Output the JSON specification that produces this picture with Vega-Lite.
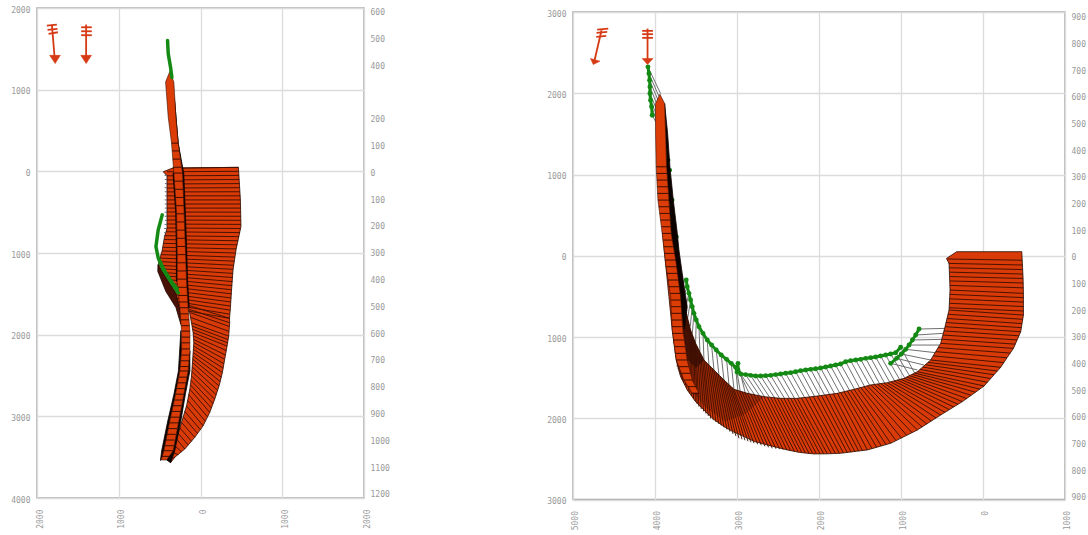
{"$schema":"https://vega.github.io/schema/vega-lite/v6.json","background":"white","padding":{"left":9,"top":5,"right":0,"bottom":0},"spacing":154,
"config":{"view":{"stroke":"#a8a8a8","strokeWidth":1.5},"axis":{"title":null,"domain":false,"ticks":false,"labelFont":"DejaVu Sans Mono","labelFontSize":8,"labelColor":"#999","labelOverlap":false,"gridColor":"#dcdcdc","gridWidth":1.3}},
"datasets":{
"L_poly":[{"x":342,"y":-40},{"x":-464,"y":-49},{"x":-488,"y":350},{"x":-495,"y":676},{"x":-435,"y":960},{"x":-398,"y":1204},{"x":-380,"y":1450},{"x":-366,"y":1671},{"x":-355,"y":1800},{"x":265,"y":1690},{"x":325,"y":1590},{"x":410,"y":1410},{"x":517,"y":1225},{"x":510,"y":1105},{"x":470,"y":975},{"x":440,"y":800},{"x":410,"y":700},{"x":410,"y":55},{"x":456,"y":5}],
"L_fan":[{"x":150,"y":1640},{"x":-355,"y":1800},{"x":-357,"y":1855},{"x":-345,"y":2018},{"x":-325,"y":2140},{"x":-296,"y":2302},{"x":-268,"y":2464},{"x":-227,"y":2628},{"x":-174,"y":2790},{"x":-113,"y":2952},{"x":-32,"y":3116},{"x":70,"y":3257},{"x":192,"y":3400},{"x":314,"y":3501},{"x":366,"y":3567},{"x":375,"y":3522},{"x":293,"y":3278},{"x":232,"y":3074},{"x":171,"y":2872},{"x":130,"y":2668},{"x":110,"y":2506},{"x":98,"y":2342},{"x":90,"y":2220},{"x":82,"y":2098},{"x":90,"y":1976},{"x":110,"y":1855}],
"L_ribs":[{"x":342,"y":-40,"x2":-464,"y2":-49},{"x":410,"y":5,"x2":-468,"y2":0},{"x":410,"y":55,"x2":-471,"y2":50},{"x":410,"y":105,"x2":-474,"y2":100},{"x":410,"y":155,"x2":-477,"y2":150},{"x":410,"y":205,"x2":-480,"y2":200},{"x":410,"y":252,"x2":-483,"y2":250},{"x":410,"y":300,"x2":-486,"y2":300},{"x":410,"y":350,"x2":-488,"y2":350},{"x":410,"y":400,"x2":-490,"y2":400},{"x":410,"y":450,"x2":-491,"y2":450},{"x":410,"y":498,"x2":-492,"y2":500},{"x":410,"y":548,"x2":-493,"y2":550},{"x":410,"y":596,"x2":-494,"y2":600},{"x":410,"y":645,"x2":-495,"y2":650},{"x":410,"y":693,"x2":-492,"y2":700},{"x":420,"y":740,"x2":-483,"y2":750},{"x":440,"y":788,"x2":-472,"y2":800},{"x":445,"y":835,"x2":-460,"y2":850},{"x":452,"y":882,"x2":-448,"y2":900},{"x":460,"y":930,"x2":-437,"y2":950},{"x":470,"y":975,"x2":-428,"y2":1000},{"x":482,"y":1020,"x2":-420,"y2":1050},{"x":496,"y":1062,"x2":-414,"y2":1100},{"x":510,"y":1105,"x2":-408,"y2":1150},{"x":517,"y":1150,"x2":-402,"y2":1200},{"x":517,"y":1190,"x2":-398,"y2":1250},{"x":515,"y":1235,"x2":-394,"y2":1300},{"x":490,"y":1275,"x2":-391,"y2":1350},{"x":460,"y":1320,"x2":-387,"y2":1400},{"x":435,"y":1365,"x2":-384,"y2":1450},{"x":410,"y":1410,"x2":-380,"y2":1500},{"x":410,"y":1455,"x2":-376,"y2":1550},{"x":385,"y":1500,"x2":-372,"y2":1600},{"x":355,"y":1545,"x2":-368,"y2":1650},{"x":325,"y":1590,"x2":-364,"y2":1700},{"x":290,"y":1640,"x2":-359,"y2":1750},{"x":265,"y":1690,"x2":-355,"y2":1800},{"x":131,"y":1692,"x2":-357,"y2":1855},{"x":125,"y":1730,"x2":-353,"y2":1900},{"x":118,"y":1790,"x2":-349,"y2":1960},{"x":110,"y":1855,"x2":-345,"y2":2018},{"x":104,"y":1895,"x2":-338,"y2":2060},{"x":96,"y":1935,"x2":-331,"y2":2100},{"x":90,"y":1976,"x2":-325,"y2":2140},{"x":88,"y":2015,"x2":-316,"y2":2195},{"x":84,"y":2058,"x2":-306,"y2":2250},{"x":82,"y":2098,"x2":-296,"y2":2302},{"x":84,"y":2140,"x2":-287,"y2":2356},{"x":87,"y":2180,"x2":-277,"y2":2410},{"x":90,"y":2220,"x2":-268,"y2":2464},{"x":92,"y":2260,"x2":-255,"y2":2520},{"x":95,"y":2300,"x2":-241,"y2":2575},{"x":98,"y":2342,"x2":-227,"y2":2628},{"x":102,"y":2396,"x2":-210,"y2":2682},{"x":106,"y":2450,"x2":-192,"y2":2736},{"x":110,"y":2506,"x2":-174,"y2":2790},{"x":116,"y":2560,"x2":-154,"y2":2845},{"x":123,"y":2615,"x2":-134,"y2":2898},{"x":130,"y":2668,"x2":-113,"y2":2952},{"x":144,"y":2735,"x2":-86,"y2":3006},{"x":158,"y":2805,"x2":-59,"y2":3060},{"x":171,"y":2872,"x2":-32,"y2":3116},{"x":192,"y":2940,"x2":2,"y2":3163},{"x":212,"y":3005,"x2":36,"y2":3210},{"x":232,"y":3074,"x2":70,"y2":3257},{"x":252,"y":3142,"x2":110,"y2":3305},{"x":272,"y":3210,"x2":150,"y2":3352},{"x":293,"y":3278,"x2":192,"y2":3400},{"x":316,"y":3360,"x2":232,"y2":3435},{"x":345,"y":3440,"x2":272,"y2":3470},{"x":375,"y":3522,"x2":314,"y2":3501}],
"L_grey":[{"x":440,"x2":410,"y":50},{"x":438,"x2":410,"y":100},{"x":436,"x2":410,"y":150},{"x":440,"x2":410,"y":200},{"x":438,"x2":410,"y":250},{"x":436,"x2":410,"y":300},{"x":440,"x2":410,"y":350},{"x":438,"x2":410,"y":400},{"x":436,"x2":410,"y":450},{"x":440,"x2":410,"y":500},{"x":438,"x2":410,"y":550},{"x":436,"x2":410,"y":600},{"x":440,"x2":410,"y":650},{"x":445,"x2":410,"y":700},{"x":445,"x2":420,"y":750},{"x":450,"x2":440,"y":800},{"x":455,"x2":445,"y":850}],
"L_lobe":[{"x":521,"y":1143},{"x":521,"y":1228},{"x":423,"y":1472},{"x":301,"y":1668},{"x":240,"y":1875},{"x":240,"y":1750},{"x":300,"y":1500},{"x":420,"y":1300}],
"L_black":[{"id":"a","x":240,"y":1950},{"id":"a","x":270,"y":2445},{"id":"a","x":325,"y":2729},{"id":"a","x":400,"y":3055},{"id":"a","x":475,"y":3421},{"id":"a","x":490,"y":3540},{"id":"a","x":481,"y":3534},{"id":"a","x":448,"y":3421},{"id":"a","x":375,"y":3055},{"id":"a","x":305,"y":2729},{"id":"a","x":253,"y":2445},{"id":"a","x":232,"y":2201},{"id":"b","x":130,"y":2201},{"id":"b","x":130,"y":2445},{"id":"b","x":185,"y":2729},{"id":"b","x":240,"y":3055},{"id":"b","x":315,"y":3421},{"id":"b","x":366,"y":3567},{"id":"b","x":415,"y":3534},{"id":"b","x":334,"y":3421},{"id":"b","x":265,"y":3055},{"id":"b","x":204,"y":2729},{"id":"b","x":151,"y":2445},{"id":"c","x":320,"y":-900},{"id":"c","x":273,"y":-345},{"id":"c","x":205,"y":21},{"id":"c","x":185,"y":509},{"id":"c","x":168,"y":997},{"id":"c","x":158,"y":1347},{"id":"c","x":138,"y":1668},{"id":"c","x":151,"y":1668},{"id":"c","x":171,"y":1347},{"id":"c","x":183,"y":997},{"id":"c","x":200,"y":509},{"id":"c","x":220,"y":21},{"id":"c","x":273,"y":-345},{"id":"c","x":301,"y":-666},{"id":"d","x":336,"y":21},{"id":"d","x":303,"y":509},{"id":"d","x":295,"y":997},{"id":"d","x":295,"y":1347},{"id":"d","x":285,"y":1347},{"id":"d","x":285,"y":997},{"id":"d","x":293,"y":509},{"id":"d","x":326,"y":21}],
"L_tube":[{"x":375,"y":-1224},{"x":326,"y":-1093},{"x":301,"y":-666},{"x":273,"y":-345},{"x":220,"y":21},{"x":200,"y":509},{"x":183,"y":997},{"x":171,"y":1347},{"x":151,"y":1668},{"x":130,"y":1957},{"x":130,"y":2201},{"x":151,"y":2445},{"x":204,"y":2729},{"x":265,"y":3055},{"x":334,"y":3421},{"x":415,"y":3534},{"x":481,"y":3534},{"x":448,"y":3421},{"x":375,"y":3055},{"x":305,"y":2729},{"x":253,"y":2445},{"x":232,"y":2201},{"x":232,"y":1957},{"x":253,"y":1668},{"x":285,"y":1347},{"x":285,"y":997},{"x":293,"y":509},{"x":326,"y":21},{"x":354,"y":-345},{"x":395,"y":-666},{"x":427,"y":-1093}],
"L_tribs":[{"x":354,"x2":273,"y":-345},{"x":345,"x2":260,"y":-250},{"x":338,"x2":248,"y":-150},{"x":332,"x2":235,"y":-50},{"x":326,"x2":220,"y":21},{"x":320,"x2":215,"y":120},{"x":314,"x2":212,"y":220},{"x":306,"x2":208,"y":320},{"x":298,"x2":203,"y":420},{"x":293,"x2":200,"y":520},{"x":291,"x2":196,"y":620},{"x":289,"x2":192,"y":720},{"x":287,"x2":188,"y":820},{"x":286,"x2":185,"y":920},{"x":285,"x2":182,"y":1020},{"x":285,"x2":179,"y":1120},{"x":285,"x2":176,"y":1220},{"x":285,"x2":172,"y":1320},{"x":277,"x2":167,"y":1420},{"x":268,"x2":160,"y":1520},{"x":260,"x2":155,"y":1600},{"x":253,"x2":151,"y":1670},{"x":248,"x2":145,"y":1745},{"x":243,"x2":140,"y":1818},{"x":237,"x2":135,"y":1890},{"x":232,"x2":130,"y":1957},{"x":232,"x2":130,"y":2030},{"x":232,"x2":130,"y":2100},{"x":232,"x2":130,"y":2175},{"x":236,"x2":134,"y":2250},{"x":242,"x2":140,"y":2320},{"x":248,"x2":146,"y":2390},{"x":253,"x2":151,"y":2445},{"x":265,"x2":163,"y":2520},{"x":280,"x2":178,"y":2590},{"x":292,"x2":192,"y":2660},{"x":305,"x2":204,"y":2729},{"x":320,"x2":218,"y":2800},{"x":335,"x2":232,"y":2870},{"x":352,"x2":248,"y":2940},{"x":368,"x2":260,"y":3010},{"x":380,"x2":270,"y":3080},{"x":395,"x2":285,"y":3150},{"x":412,"x2":302,"y":3220},{"x":430,"x2":318,"y":3290},{"x":440,"x2":328,"y":3360},{"x":448,"x2":334,"y":3421},{"x":470,"x2":375,"y":3490}],
"L_green":[{"id":"t","x":403,"y":-1602},{"id":"t","x":395,"y":-1443},{"id":"t","x":366,"y":-1272},{"id":"t","x":350,"y":-1150},{"id":"l","x":468,"y":533},{"id":"l","x":517,"y":716},{"id":"l","x":545,"y":920},{"id":"l","x":517,"y":1061},{"id":"l","x":456,"y":1204},{"id":"l","x":354,"y":1366},{"id":"l","x":273,"y":1488},{"id":"m","x":500,"y":1100},{"id":"m","x":430,"y":1235},{"id":"m","x":340,"y":1370},{"id":"m","x":285,"y":1440}],
"L_arrowLine":[{"x":1818,"y":-1797,"x2":1785,"y2":-1400},{"x":1879,"y":-1785,"x2":1757,"y2":-1797},{"x":1871,"y":-1732,"x2":1749,"y2":-1745},{"x":1859,"y":-1684,"x2":1745,"y2":-1703},{"x":1399,"y":-1797,"x2":1399,"y2":-1400},{"x":1460,"y":-1764,"x2":1330,"y2":-1764},{"x":1460,"y":-1715,"x2":1330,"y2":-1715},{"x":1460,"y":-1667,"x2":1330,"y2":-1667}],
"L_arrowHead":[{"id":"a","x":1845,"y":-1420},{"id":"a","x":1715,"y":-1420},{"id":"a","x":1778,"y":-1320},{"id":"b","x":1464,"y":-1420},{"id":"b","x":1334,"y":-1420},{"id":"b","x":1399,"y":-1320}],
"L_axis":[{"m":-1219.2},{"m":609.6}],
"R_axis":[{"m":-914.4},{"m":914.4}],
"R_poly":[{"x":321,"y":-50},{"x":-473,"y":-50},{"x":-489,"y":280},{"x":-493,"y":463},{"x":-493,"y":730},{"x":-476,"y":835},{"x":-460,"y":935},{"x":-416,"y":1036},{"x":-371,"y":1140},{"x":-293,"y":1256},{"x":-216,"y":1373},{"x":-135,"y":1465},{"x":-13,"y":1603},{"x":92,"y":1680},{"x":251,"y":1795},{"x":357,"y":1861},{"x":516,"y":1960},{"x":630,"y":2034},{"x":800,"y":2144},{"x":930,"y":2210},{"x":1126,"y":2308},{"x":1240,"y":2341},{"x":1410,"y":2390},{"x":1540,"y":2406},{"x":1736,"y":2431},{"x":1900,"y":2438},{"x":2061,"y":2439},{"x":2240,"y":2420},{"x":2386,"y":2390},{"x":2631,"y":2329},{"x":2790,"y":2285},{"x":2915,"y":2226},{"x":3040,"y":2170},{"x":3159,"y":2103},{"x":3270,"y":2025},{"x":3363,"y":1939},{"x":3505,"y":1796},{"x":3607,"y":1652},{"x":3688,"y":1488},{"x":3741,"y":1283},{"x":3790,"y":914},{"x":3830,"y":504},{"x":3871,"y":94},{"x":3912,"y":-316},{"x":3769,"y":-193},{"x":3729,"y":94},{"x":3688,"y":381},{"x":3627,"y":668},{"x":3566,"y":914},{"x":3505,"y":1078},{"x":3403,"y":1283},{"x":3281,"y":1406},{"x":3159,"y":1529},{"x":3037,"y":1644},{"x":2875,"y":1693},{"x":2671,"y":1734},{"x":2468,"y":1755},{"x":2265,"y":1755},{"x":2020,"y":1726},{"x":1776,"y":1693},{"x":1573,"y":1644},{"x":1370,"y":1590},{"x":1166,"y":1562},{"x":963,"y":1509},{"x":800,"y":1427},{"x":703,"y":1341},{"x":638,"y":1283},{"x":577,"y":1180},{"x":516,"y":1078},{"x":463,"y":873},{"x":414,"y":668},{"x":402,"y":422},{"x":414,"y":94},{"x":446,"y":33}],
"R_ribs":[{"x":430,"y":40,"x2":-477,"y2":55},{"x":420,"y":94,"x2":-481,"y2":114},{"x":412,"y":148,"x2":-484,"y2":170},{"x":405,"y":202,"x2":-487,"y2":225},{"x":402,"y":256,"x2":-489,"y2":280},{"x":402,"y":310,"x2":-490,"y2":335},{"x":402,"y":365,"x2":-492,"y2":395},{"x":402,"y":422,"x2":-493,"y2":463},{"x":405,"y":475,"x2":-493,"y2":515},{"x":408,"y":530,"x2":-493,"y2":570},{"x":411,"y":585,"x2":-493,"y2":625},{"x":414,"y":640,"x2":-493,"y2":680},{"x":414,"y":668,"x2":-493,"y2":730},{"x":428,"y":720,"x2":-485,"y2":782},{"x":440,"y":772,"x2":-476,"y2":835},{"x":452,"y":822,"x2":-468,"y2":885},{"x":463,"y":873,"x2":-460,"y2":935},{"x":476,"y":925,"x2":-438,"y2":985},{"x":490,"y":976,"x2":-416,"y2":1036},{"x":503,"y":1027,"x2":-394,"y2":1088},{"x":516,"y":1078,"x2":-371,"y2":1140},{"x":546,"y":1130,"x2":-332,"y2":1198},{"x":577,"y":1180,"x2":-293,"y2":1256},{"x":608,"y":1232,"x2":-255,"y2":1315},{"x":638,"y":1283,"x2":-216,"y2":1373},{"x":671,"y":1312,"x2":-175,"y2":1419},{"x":703,"y":1341,"x2":-135,"y2":1465},{"x":735,"y":1370,"x2":-94,"y2":1511},{"x":767,"y":1398,"x2":-54,"y2":1557},{"x":800,"y":1427,"x2":-13,"y2":1603},{"x":833,"y":1444,"x2":40,"y2":1641},{"x":865,"y":1460,"x2":92,"y2":1680},{"x":898,"y":1476,"x2":145,"y2":1718},{"x":930,"y":1493,"x2":198,"y2":1757},{"x":963,"y":1509,"x2":251,"y2":1795},{"x":1004,"y":1520,"x2":304,"y2":1828},{"x":1044,"y":1530,"x2":357,"y2":1861},{"x":1085,"y":1541,"x2":410,"y2":1894},{"x":1125,"y":1551,"x2":463,"y2":1927},{"x":1166,"y":1562,"x2":516,"y2":1960},{"x":1207,"y":1568,"x2":573,"y2":1997},{"x":1248,"y":1573,"x2":630,"y2":2034},{"x":1288,"y":1579,"x2":686,"y2":2070},{"x":1329,"y":1584,"x2":743,"y2":2107},{"x":1370,"y":1590,"x2":800,"y2":2144},{"x":1411,"y":1601,"x2":865,"y2":2177},{"x":1451,"y":1612,"x2":930,"y2":2210},{"x":1492,"y":1622,"x2":996,"y2":2242},{"x":1532,"y":1633,"x2":1061,"y2":2275},{"x":1573,"y":1644,"x2":1126,"y2":2308},{"x":1614,"y":1654,"x2":1183,"y2":2324},{"x":1654,"y":1664,"x2":1240,"y2":2341},{"x":1695,"y":1673,"x2":1297,"y2":2357},{"x":1735,"y":1683,"x2":1354,"y2":2373},{"x":1776,"y":1693,"x2":1410,"y2":2390},{"x":1825,"y":1700,"x2":1470,"y2":2398},{"x":1874,"y":1706,"x2":1516,"y2":2404},{"x":1922,"y":1713,"x2":1562,"y2":2412},{"x":1971,"y":1719,"x2":1608,"y2":2418},{"x":2020,"y":1726,"x2":1654,"y2":2423},{"x":2069,"y":1732,"x2":1703,"y2":2426},{"x":2118,"y":1738,"x2":1752,"y2":2430},{"x":2167,"y":1743,"x2":1801,"y2":2433},{"x":2216,"y":1749,"x2":1850,"y2":2436},{"x":2265,"y":1755,"x2":1898,"y2":2439},{"x":2305,"y":1755,"x2":1943,"y2":2438},{"x":2346,"y":1755,"x2":1988,"y2":2436},{"x":2387,"y":1755,"x2":2033,"y2":2435},{"x":2428,"y":1755,"x2":2077,"y2":2433},{"x":2468,"y":1755,"x2":2122,"y2":2431},{"x":2509,"y":1751,"x2":2167,"y2":2424},{"x":2549,"y":1747,"x2":2212,"y2":2418},{"x":2590,"y":1742,"x2":2256,"y2":2411},{"x":2630,"y":1738,"x2":2301,"y2":2405},{"x":2671,"y":1734,"x2":2346,"y2":2398},{"x":2712,"y":1726,"x2":2391,"y2":2392},{"x":2753,"y":1718,"x2":2436,"y2":2387},{"x":2793,"y":1709,"x2":2480,"y2":2381},{"x":2834,"y":1701,"x2":2525,"y2":2376},{"x":2875,"y":1693,"x2":2570,"y2":2370},{"x":2907,"y":1683,"x2":2615,"y2":2358},{"x":2940,"y":1673,"x2":2659,"y2":2345},{"x":2972,"y":1664,"x2":2704,"y2":2333},{"x":3005,"y":1654,"x2":2748,"y2":2320},{"x":3037,"y":1644,"x2":2793,"y2":2308},{"x":3061,"y":1621,"x2":2830,"y2":2296},{"x":3086,"y":1598,"x2":2866,"y2":2284},{"x":3110,"y":1575,"x2":2903,"y2":2271},{"x":3135,"y":1552,"x2":2939,"y2":2259},{"x":3159,"y":1529,"x2":2976,"y2":2247},{"x":3183,"y":1504,"x2":3013,"y2":2220},{"x":3208,"y":1480,"x2":3049,"y2":2193},{"x":3232,"y":1455,"x2":3086,"y2":2165},{"x":3257,"y":1431,"x2":3122,"y2":2138},{"x":3281,"y":1406,"x2":3159,"y2":2111},{"x":3305,"y":1381,"x2":3192,"y2":2089},{"x":3330,"y":1357,"x2":3224,"y2":2067},{"x":3354,"y":1332,"x2":3257,"y2":2045},{"x":3379,"y":1308,"x2":3289,"y2":2023},{"x":3403,"y":1283,"x2":3322,"y2":2001},{"x":3423,"y":1242,"x2":3350,"y2":1972},{"x":3444,"y":1201,"x2":3379,"y2":1943},{"x":3464,"y":1160,"x2":3407,"y2":1915},{"x":3485,"y":1119,"x2":3436,"y2":1886},{"x":3505,"y":1078,"x2":3464,"y2":1857},{"x":3517,"y":1045,"x2":3486,"y2":1824},{"x":3530,"y":1012,"x2":3508,"y2":1791},{"x":3542,"y":980,"x2":3530,"y2":1759},{"x":3554,"y":947,"x2":3552,"y2":1726},{"x":3566,"y":914,"x2":3574,"y2":1693},{"x":3578,"y":865,"x2":3593,"y2":1660},{"x":3591,"y":816,"x2":3612,"y2":1627},{"x":3603,"y":766,"x2":3630,"y2":1595},{"x":3615,"y":717,"x2":3649,"y2":1562},{"x":3627,"y":668,"x2":3668,"y2":1529},{"x":3639,"y":611,"x2":3680,"y2":1496},{"x":3651,"y":553,"x2":3692,"y2":1463},{"x":3664,"y":496,"x2":3705,"y2":1431},{"x":3676,"y":438,"x2":3717,"y2":1398},{"x":3688,"y":381,"x2":3729,"y2":1365},{"x":3698,"y":310,"x2":3737,"y2":1308},{"x":3708,"y":240,"x2":3745,"y2":1250},{"x":3719,"y":170,"x2":3753,"y2":1193},{"x":3729,"y":100,"x2":3769,"y2":1078}],
"R_green":[{"s":"a","x":780,"y":902,"x2":463,"y2":894},{"s":"a","x":821,"y":976,"x2":483,"y2":955},{"s":"a","x":861,"y":1037,"x2":503,"y2":1029},{"s":"a","x":902,"y":1099,"x2":528,"y2":1099},{"s":"a","x":943,"y":1152,"x2":577,"y2":1193},{"s":"a","x":996,"y":1209,"x2":638,"y2":1283},{"s":"a","x":1053,"y":1263,"x2":719,"y2":1345},{"s":"a","x":1126,"y":1324,"x2":800,"y2":1406},
{"s":"b","x":1004,"y":1127,"x2":834,"y2":1444},{"s":"b","x":1065,"y":1193,"x2":895,"y2":1478},{"s":"b","x":1126,"y":1209,"x2":956,"y2":1500},{"s":"b","x":1187,"y":1222,"x2":1017,"y2":1523},{"s":"b","x":1248,"y":1234,"x2":1078,"y2":1540},{"s":"b","x":1309,"y":1246,"x2":1139,"y2":1554},{"s":"b","x":1370,"y":1254,"x2":1200,"y2":1567},{"s":"b","x":1431,"y":1263,"x2":1261,"y2":1575},{"s":"b","x":1492,"y":1275,"x2":1322,"y2":1583},{"s":"b","x":1553,"y":1283,"x2":1383,"y2":1593},{"s":"b","x":1614,"y":1291,"x2":1444,"y2":1610},{"s":"b","x":1675,"y":1304,"x2":1505,"y2":1626},{"s":"b","x":1736,"y":1332,"x2":1566,"y2":1642},{"s":"b","x":1797,"y":1345,"x2":1627,"y2":1658},{"s":"b","x":1858,"y":1357,"x2":1688,"y2":1672},{"s":"b","x":1919,"y":1369,"x2":1749,"y2":1686},{"s":"b","x":1980,"y":1381,"x2":1810,"y2":1698},{"s":"b","x":2041,"y":1390,"x2":1871,"y2":1706},{"s":"b","x":2102,"y":1398,"x2":1932,"y2":1714},{"s":"b","x":2163,"y":1406,"x2":1993,"y2":1722},{"s":"b","x":2224,"y":1414,"x2":2054,"y2":1730},{"s":"b","x":2285,"y":1427,"x2":2115,"y2":1738},{"s":"b","x":2346,"y":1439,"x2":2176,"y2":1744},{"s":"b","x":2407,"y":1447,"x2":2237,"y2":1752},{"s":"b","x":2468,"y":1455,"x2":2298,"y2":1755},{"s":"b","x":2529,"y":1463,"x2":2359,"y2":1755},{"s":"b","x":2590,"y":1472,"x2":2420,"y2":1755},{"s":"b","x":2651,"y":1476,"x2":2481,"y2":1754},{"s":"b","x":2712,"y":1480,"x2":2542,"y2":1748},{"s":"b","x":2773,"y":1480,"x2":2603,"y2":1741},{"s":"b","x":2834,"y":1472,"x2":2664,"y2":1735},{"s":"b","x":2895,"y":1463,"x2":2725,"y2":1723},{"s":"b","x":2956,"y":1455,"x2":2786,"y2":1711},{"s":"b","x":2988,"y":1406,"x2":2850,"y2":1698},{"s":"b","x":2988,"y":1324,"x2":2900,"y2":1686},
{"s":"c","x":3619,"y":299,"x2":3690,"y2":381},{"s":"c","x":3607,"y":381,"x2":3660,"y2":520},{"s":"c","x":3586,"y":463,"x2":3630,"y2":650},{"s":"c","x":3566,"y":545,"x2":3600,"y2":760},{"s":"c","x":3546,"y":627,"x2":3570,"y2":870},{"s":"c","x":3525,"y":709,"x2":3545,"y2":960},{"s":"c","x":3497,"y":791,"x2":3505,"y2":1078},{"s":"c","x":3464,"y":873,"x2":3452,"y2":1180},{"s":"c","x":3415,"y":955,"x2":3403,"y2":1283},{"s":"c","x":3363,"y":1037,"x2":3342,"y2":1345},{"s":"c","x":3310,"y":1099,"x2":3281,"y2":1406},{"s":"c","x":3253,"y":1160,"x2":3220,"y2":1468},{"s":"c","x":3192,"y":1222,"x2":3159,"y2":1529},{"s":"c","x":3127,"y":1275,"x2":3098,"y2":1587},{"s":"c","x":3070,"y":1324,"x2":3037,"y2":1644},{"s":"c","x":3017,"y":1373,"x2":2990,"y2":1660},{"s":"c","x":3000,"y":1430,"x2":2960,"y2":1670},
{"s":"t","x":4086,"y":-2325,"x2":3932,"y2":-1997},{"s":"t","x":4074,"y":-2243,"x2":3940,"y2":-1936},{"s":"t","x":4066,"y":-2161,"x2":3950,"y2":-1885},{"s":"t","x":4062,"y":-2079,"x2":3964,"y2":-1833},{"s":"t","x":4062,"y":-1997,"x2":3968,"y2":-1770},{"s":"t","x":4054,"y":-1915,"x2":3972,"y2":-1710},{"s":"t","x":4042,"y":-1833,"x2":3978,"y2":-1660},{"s":"t","x":4034,"y":-1730,"x2":3981,"y2":-1628}],
"R_bits":[{"x":3838,"y":-1177},{"x":3818,"y":-1054},{"x":3789,"y":-685},{"x":3737,"y":-234}],
"R_black":[{"x":3883,"y":-1874},{"x":3846,"y":-1505},{"x":3818,"y":-1095},{"x":3777,"y":-685},{"x":3728,"y":-275},{"x":3708,"y":-70},{"x":3668,"y":217},{"x":3607,"y":627},{"x":3640,"y":900},{"x":3700,"y":500},{"x":3750,"y":53},{"x":3802,"y":-275},{"x":3830,"y":-685},{"x":3859,"y":-1095},{"x":3871,"y":-1505}],
"R_wedge":[{"x":3668,"y":217},{"x":3627,"y":668},{"x":3566,"y":914},{"x":3505,"y":1078},{"x":3403,"y":1283},{"x":3500,"y":1380},{"x":3600,"y":1283},{"x":3660,"y":914},{"x":3700,"y":500}],
"R_shade":[{"x":3403,"y":1283},{"x":3281,"y":1406},{"x":3159,"y":1529},{"x":3037,"y":1644},{"x":2875,"y":1693},{"x":2671,"y":1734},{"x":2900,"y":1950},{"x":3150,"y":2040},{"x":3400,"y":1850},{"x":3560,"y":1640},{"x":3650,"y":1400},{"x":3560,"y":1250}],
"R_tube":[{"x":3940,"y":-1989},{"x":3883,"y":-1874},{"x":3871,"y":-1505},{"x":3859,"y":-1095},{"x":3830,"y":-685},{"x":3802,"y":-275},{"x":3741,"y":94},{"x":3688,"y":504},{"x":3660,"y":914},{"x":3607,"y":1283},{"x":3546,"y":1529},{"x":3464,"y":1693},{"x":3546,"y":1693},{"x":3647,"y":1529},{"x":3741,"y":1283},{"x":3790,"y":914},{"x":3810,"y":504},{"x":3871,"y":94},{"x":3912,"y":-275},{"x":3964,"y":-685},{"x":3985,"y":-1095},{"x":3993,"y":-1505},{"x":3993,"y":-1874}],
"R_tribs":[{"x":3985,"x2":3859,"y":-1095},{"x":3981,"x2":3853,"y":-1013},{"x":3977,"x2":3847,"y":-931},{"x":3973,"x2":3841,"y":-849},{"x":3969,"x2":3836,"y":-767},{"x":3964,"x2":3830,"y":-685},{"x":3954,"x2":3824,"y":-603},{"x":3943,"x2":3818,"y":-521},{"x":3933,"x2":3812,"y":-439},{"x":3922,"x2":3806,"y":-357},{"x":3912,"x2":3802,"y":-275},{"x":3900,"x2":3785,"y":-193},{"x":3890,"x2":3770,"y":-111},{"x":3880,"x2":3755,"y":-29},{"x":3873,"x2":3745,"y":53},{"x":3865,"x2":3735,"y":135},{"x":3853,"x2":3723,"y":217},{"x":3841,"x2":3710,"y":299},{"x":3829,"x2":3700,"y":381},{"x":3816,"x2":3692,"y":463},{"x":3808,"x2":3685,"y":545},{"x":3804,"x2":3678,"y":627},{"x":3800,"x2":3672,"y":709},{"x":3796,"x2":3666,"y":791},{"x":3792,"x2":3662,"y":873},{"x":3786,"x2":3655,"y":955},{"x":3775,"x2":3645,"y":1037},{"x":3763,"x2":3630,"y":1119},{"x":3752,"x2":3620,"y":1201},{"x":3741,"x2":3607,"y":1283},{"x":3710,"x2":3590,"y":1365},{"x":3680,"x2":3570,"y":1447},{"x":3647,"x2":3546,"y":1529},{"x":3597,"x2":3505,"y":1611},{"x":3546,"x2":3464,"y":1693}],
"R_arrowLine":[{"x":4652,"y":-2776,"x2":4737,"y2":-2407},{"x":4705,"y":-2784,"x2":4570,"y2":-2796},{"x":4713,"y":-2743,"x2":4583,"y2":-2755},{"x":4717,"y":-2694,"x2":4595,"y2":-2706},{"x":4091,"y":-2796,"x2":4091,"y2":-2407},{"x":4156,"y":-2768,"x2":4025,"y2":-2768},{"x":4156,"y":-2727,"x2":4025,"y2":-2727},{"x":4156,"y":-2682,"x2":4025,"y2":-2682}],
"R_arrowHead":[{"id":"a","x":4786,"y":-2427},{"id":"a","x":4672,"y":-2395},{"id":"a","x":4753,"y":-2354},{"id":"b","x":4156,"y":-2427},{"id":"b","x":4025,"y":-2427},{"id":"b","x":4091,"y":-2354}]
},
"hconcat":[
{"width":327,"height":490,"layer":[
{"encoding":{"x":{"field":"x","type":"quantitative","scale":{"domain":[2000,-2000]},"axis":{"values":[2000,1000,0,-1000,-2000],"labelExpr":"''+abs(datum.value)","labelAngle":270,"labelAlign":"right","labelBaseline":"middle","labelPadding":11,"labelOffset":3}},"y":{"field":"y","type":"quantitative","scale":{"domain":[4000,-2000]},"axis":{"values":[-2000,-1000,0,1000,2000,3000,4000],"labelExpr":"''+abs(datum.value)","labelPadding":7,"labelOffset":2}}},
"layer":[
{"data":{"name":"L_poly"},"mark":{"type":"line","interpolate":"linear-closed","fill":"#d83a08","stroke":"#2a0a00","strokeWidth":0.8},"encoding":{"order":{"value":null}}},
{"data":{"name":"L_fan"},"mark":{"type":"line","interpolate":"linear-closed","fill":"#d83a08","stroke":"#2a0a00","strokeWidth":0.8},"encoding":{"order":{"value":null}}},
{"data":{"name":"L_grey"},"mark":{"type":"rule","stroke":"#667088","strokeWidth":1},"encoding":{"x2":{"field":"x2"}}},
{"data":{"name":"L_ribs"},"mark":{"type":"rule","stroke":"#3a0e00","strokeWidth":0.9},"encoding":{"x2":{"field":"x2"},"y2":{"field":"y2"}}},
{"data":{"name":"L_lobe"},"mark":{"type":"line","interpolate":"linear-closed","fill":"#4a1206","stroke":"#1a0500","strokeWidth":0.8},"encoding":{"order":{"value":null}}},
{"data":{"name":"L_black"},"mark":{"type":"line","interpolate":"linear-closed","fill":"#0c0300","stroke":"#0c0300","strokeWidth":0.8},"encoding":{"detail":{"field":"id"},"order":{"value":null}}},
{"data":{"name":"L_tube"},"mark":{"type":"line","interpolate":"linear-closed","fill":"#dc3c06","stroke":"#3a0e00","strokeWidth":0.6},"encoding":{"order":{"value":null}}},
{"data":{"name":"L_tribs"},"mark":{"type":"rule","stroke":"#2a0a00","strokeWidth":0.9},"encoding":{"x2":{"field":"x2"}}},
{"data":{"name":"L_green"},"mark":{"type":"line","stroke":"#148a14","strokeWidth":3.5,"strokeCap":"round"},"encoding":{"detail":{"field":"id"},"order":{"value":null}}},
{"data":{"name":"L_arrowLine"},"mark":{"type":"rule","stroke":"#d63a14","strokeWidth":1.8},"encoding":{"x2":{"field":"x2"},"y2":{"field":"y2"}}},
{"data":{"name":"L_arrowHead"},"mark":{"type":"line","interpolate":"linear-closed","fill":"#d63a14","stroke":"#d63a14","strokeWidth":0.6},"encoding":{"detail":{"field":"id"},"order":{"value":null}}}
]},
{"data":{"name":"L_axis"},"mark":{"type":"rule","opacity":0},"encoding":{"y":{"field":"m","type":"quantitative","scale":{"domain":[-1219.2,609.6]},"axis":{"orient":"right","grid":false,"values":[600,500,400,200,100,0,-100,-200,-300,-400,-500,-600,-700,-800,-900,-1000,-1100,-1200],"labelExpr":"''+abs(datum.value)","labelPadding":6,"labelOffset":2}}}}
],"resolve":{"scale":{"y":"independent"}}},
{"vconcat":[
{"width":492,"height":1,"view":{"stroke":null},"data":{"name":"R_axis"},"mark":{"type":"rule","opacity":0},"encoding":{}},
{"width":492,"height":487.5,"layer":[
{"encoding":{"x":{"field":"x","type":"quantitative","scale":{"domain":[5000,-1000]},"axis":{"values":[5000,4000,3000,2000,1000,0,-1000],"labelExpr":"''+abs(datum.value)","labelAngle":270,"labelAlign":"right","labelBaseline":"middle","labelPadding":11,"labelOffset":2}},"y":{"field":"y","type":"quantitative","scale":{"domain":[3000,-3000]},"axis":{"values":[-3000,-2000,-1000,0,1000,2000,3000],"labelExpr":"''+abs(datum.value)","labelPadding":7,"labelOffset":2}}},
"layer":[
{"data":{"name":"R_green"},"mark":{"type":"rule","stroke":"#707070","strokeWidth":1},"encoding":{"x2":{"field":"x2"},"y2":{"field":"y2"}}},
{"data":{"name":"R_poly"},"mark":{"type":"line","interpolate":"linear-closed","fill":"#d83a08","stroke":"#2a0a00","strokeWidth":0.8},"encoding":{"order":{"value":null}}},
{"data":{"name":"R_ribs"},"mark":{"type":"rule","stroke":"#3a0e00","strokeWidth":0.9},"encoding":{"x2":{"field":"x2"},"y2":{"field":"y2"}}},
{"data":{"name":"R_shade"},"mark":{"type":"line","interpolate":"linear-closed","fill":"#4a1204","fillOpacity":0.35,"strokeWidth":0},"encoding":{"order":{"value":null}}},
{"data":{"name":"R_wedge"},"mark":{"type":"line","interpolate":"linear-closed","fill":"#3a0e04","fillOpacity":0.85,"strokeWidth":0},"encoding":{"order":{"value":null}}},
{"data":{"name":"R_bits"},"mark":{"type":"circle","fill":"#148a14","size":20,"opacity":1}},
{"data":{"name":"R_black"},"mark":{"type":"line","interpolate":"linear-closed","fill":"#0c0300","stroke":"#0c0300","strokeWidth":0.8},"encoding":{"order":{"value":null}}},
{"data":{"name":"R_tube"},"mark":{"type":"line","interpolate":"linear-closed","fill":"#dc3c06","stroke":"#3a0e00","strokeWidth":0.6},"encoding":{"order":{"value":null}}},
{"data":{"name":"R_tribs"},"mark":{"type":"rule","stroke":"#2a0a00","strokeWidth":0.9},"encoding":{"x2":{"field":"x2"}}},
{"data":{"name":"R_green"},"mark":{"type":"line","stroke":"#148a14","strokeWidth":3},"encoding":{"detail":{"field":"s"},"order":{"value":null}}},
{"data":{"name":"R_green"},"mark":{"type":"circle","fill":"#148a14","size":24,"opacity":1}},
{"data":{"name":"R_arrowLine"},"mark":{"type":"rule","stroke":"#d63a14","strokeWidth":1.8},"encoding":{"x2":{"field":"x2"},"y2":{"field":"y2"}}},
{"data":{"name":"R_arrowHead"},"mark":{"type":"line","interpolate":"linear-closed","fill":"#d63a14","stroke":"#d63a14","strokeWidth":0.6},"encoding":{"detail":{"field":"id"},"order":{"value":null}}}
]},
{"data":{"name":"R_axis"},"mark":{"type":"rule","opacity":0},"encoding":{"y":{"field":"m","type":"quantitative","scale":{"domain":[-914.4,914.4]},"axis":{"orient":"right","grid":false,"values":[900,800,700,600,500,400,300,200,100,0,-100,-200,-300,-400,-500,-600,-700,-800,-900],"labelExpr":"''+abs(datum.value)","labelPadding":6,"labelOffset":2}}}}
],"resolve":{"scale":{"y":"independent"}}}
],"spacing":0}
]}
